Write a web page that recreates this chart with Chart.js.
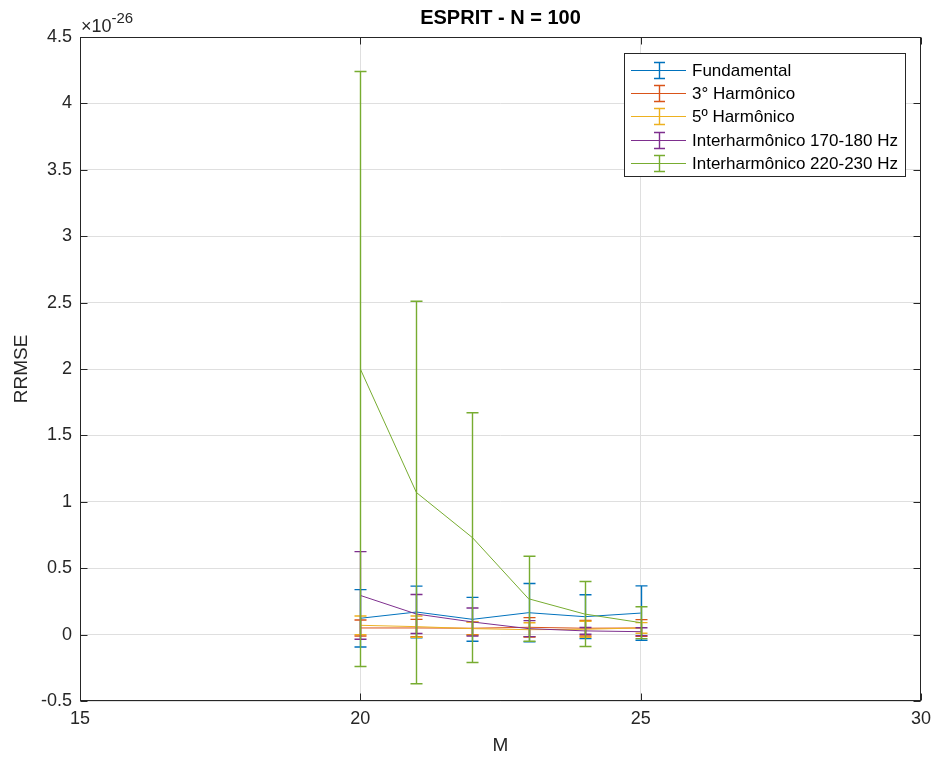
<!DOCTYPE html>
<html>
<head>
<meta charset="utf-8">
<script src="https://cdn.jsdelivr.net/npm/chart.js@4.4.1/dist/chart.umd.min.js"></script>
<style>
  html, body { margin: 0; padding: 0; background: #ffffff; }
  #wrap { width: 938px; height: 760px; }
</style>
</head>
<body>
<div id="wrap"><canvas id="c" width="938" height="760"></canvas></div>
<script>
// Embedding dimension M (x axis)
const M = [20, 21, 22, 23, 24, 25];

// RRMSE means and error half-widths, in units of 1e-26
const fundamentalMean = [0.123, 0.170, 0.115, 0.165, 0.135, 0.162];
const fundamentalErr  = [0.216, 0.195, 0.165, 0.220, 0.165, 0.205];

const harm3Mean = [0.050, 0.050, 0.048, 0.055, 0.048, 0.050];
const harm3Err  = [0.060, 0.065, 0.048, 0.073, 0.058, 0.063];

const harm5Mean = [0.070, 0.060, 0.045, 0.037, 0.040, 0.050];
const harm5Err  = [0.070, 0.080, 0.050, 0.052, 0.060, 0.040];

const inter170Mean = [0.295, 0.155, 0.095, 0.045, 0.028, 0.022];
const inter170Err  = [0.330, 0.147, 0.105, 0.060, 0.025, 0.030];

const inter220Mean = [2.000, 1.070, 0.730, 0.270, 0.155, 0.090];
const inter220Err  = [2.240, 1.440, 0.940, 0.320, 0.245, 0.120];

const seriesNames = [
  'Fundamental',
  '3° Harmônico',
  '5º Harmônico',
  'Interharmônico 170-180 Hz',
  'Interharmônico 220-230 Hz'
];
const seriesColors = ['#0072BD', '#D95319', '#EDB120', '#7E2F8E', '#77AC30'];
const seriesMeans = [fundamentalMean, harm3Mean, harm5Mean, inter170Mean, inter220Mean];
const seriesErrs  = [fundamentalErr, harm3Err, harm5Err, inter170Err, inter220Err];

const xTicks = [15, 20, 25, 30];
const yTicks = [-0.5, 0, 0.5, 1, 1.5, 2, 2.5, 3, 3.5, 4, 4.5];

const chartTitle = 'ESPRIT - N = 100';
const xLabel = 'M';
const yLabel = 'RRMSE';
const exponentBase = '\u00d710';
const exponentPower = '-26';

const FONT = '"Liberation Sans", Arial, Helvetica, sans-serif';
const AXIS_COLOR = '#262626';
const GRID_COLOR = '#dfdfdf';

const datasets = seriesNames.map((name, i) => ({
  label: name,
  data: M.map((m, k) => ({ x: m, y: seriesMeans[i][k] })),
  errors: seriesErrs[i],
  borderColor: seriesColors[i],
  backgroundColor: seriesColors[i],
  borderWidth: 1,
  pointRadius: 0,
  pointHoverRadius: 0,
  tension: 0,
  fill: false,
  order: seriesNames.length - i
}));

// Vertical error bars with caps, drawn right after each series' line
const errorBarPlugin = {
  id: 'errorBars',
  afterDatasetDraw(chart, args) {
    const ds = chart.data.datasets[args.index];
    if (!ds.errors) return;
    const { ctx, scales: { x, y }, chartArea } = chart;
    ctx.save();
    ctx.beginPath();
    ctx.rect(chartArea.left, chartArea.top, chartArea.right - chartArea.left, chartArea.bottom - chartArea.top);
    ctx.clip();
    ctx.strokeStyle = ds.borderColor;
    ctx.lineWidth = 1.4;
    const half = 6;
    ds.data.forEach((p, k) => {
      const e = ds.errors[k];
      const px = Math.round(x.getPixelForValue(p.x)) + 0.5;
      const yTop = y.getPixelForValue(p.y + e);
      const yBot = y.getPixelForValue(p.y - e);
      ctx.beginPath();
      ctx.moveTo(px, yTop); ctx.lineTo(px, yBot);
      ctx.moveTo(px - half, yTop); ctx.lineTo(px + half, yTop);
      ctx.moveTo(px - half, yBot); ctx.lineTo(px + half, yBot);
      ctx.stroke();
    });
    ctx.restore();
  }
};

// Axes box, inward ticks, title, exponent and legend
const framePlugin = {
  id: 'frame',
  afterDraw(chart) {
    const { ctx, chartArea: a, scales: { x, y } } = chart;
    ctx.save();
    ctx.strokeStyle = AXIS_COLOR;
    ctx.lineWidth = 1;
    const L = Math.round(a.left) + 0.5, R = Math.round(a.right) - 0.5;
    const T = Math.round(a.top) + 0.5, B = Math.round(a.bottom) - 0.5;
    ctx.strokeRect(L, T, R - L, B - T);

    const tl = 7;
    ctx.beginPath();
    xTicks.forEach(v => {
      const px = Math.round(x.getPixelForValue(v)) + 0.5;
      ctx.moveTo(px, B); ctx.lineTo(px, B - tl);
      ctx.moveTo(px, T); ctx.lineTo(px, T + tl);
    });
    yTicks.forEach(v => {
      const py = Math.round(y.getPixelForValue(v)) + 0.5;
      ctx.moveTo(L, py); ctx.lineTo(L + tl, py);
      ctx.moveTo(R, py); ctx.lineTo(R - tl, py);
    });
    ctx.stroke();

    // Title
    ctx.fillStyle = '#000000';
    ctx.font = 'bold 20px ' + FONT;
    ctx.textAlign = 'center';
    ctx.textBaseline = 'middle';
    ctx.fillText(chartTitle, (a.left + a.right) / 2, 18);

    // Axis exponent
    ctx.fillStyle = AXIS_COLOR;
    ctx.textAlign = 'left';
    ctx.textBaseline = 'alphabetic';
    ctx.font = '18px ' + FONT;
    ctx.fillText(exponentBase, a.left + 1, 32);
    const w = ctx.measureText(exponentBase).width;
    ctx.font = '15px ' + FONT;
    ctx.fillText(exponentPower, a.left + 1 + w, 23);

    // Legend
    const lx = 624.5, ly = 53.5, lw = 281, lh = 123;
    ctx.fillStyle = '#ffffff';
    ctx.fillRect(lx, ly, lw, lh);
    ctx.strokeStyle = AXIS_COLOR;
    ctx.lineWidth = 1;
    ctx.strokeRect(lx, ly, lw, lh);
    ctx.font = '17px ' + FONT;
    ctx.textBaseline = 'middle';
    seriesNames.forEach((name, i) => {
      const cy = Math.round(70 + i * 23.2) + 0.5;
      ctx.strokeStyle = seriesColors[i];
      ctx.lineWidth = 1;
      ctx.beginPath();
      ctx.moveTo(631, cy); ctx.lineTo(686, cy);
      ctx.stroke();
      ctx.lineWidth = 1.4;
      ctx.beginPath();
      ctx.moveTo(659.5, cy - 8); ctx.lineTo(659.5, cy + 8);
      ctx.moveTo(654, cy - 8); ctx.lineTo(665, cy - 8);
      ctx.moveTo(654, cy + 8); ctx.lineTo(665, cy + 8);
      ctx.stroke();
      ctx.fillStyle = '#000000';
      ctx.fillText(name, 692, cy + 1);
    });
    ctx.restore();
  }
};

const fmt = v => {
  const r = Math.round(v * 100) / 100;
  return String(r);
};

new Chart(document.getElementById('c'), {
  type: 'line',
  data: { datasets },
  options: {
    responsive: false,
    animation: false,
    devicePixelRatio: 1,
    layout: { padding: { top: 37, right: 17, left: 0, bottom: 0 } },
    plugins: {
      legend: { display: false },
      title: { display: false },
      tooltip: { enabled: false }
    },
    scales: {
      x: {
        type: 'linear',
        min: 15, max: 30,
        afterBuildTicks: s => { s.ticks = xTicks.map(v => ({ value: v })); },
        afterFit: s => { s.height = 59; },
        grid: { color: GRID_COLOR, drawTicks: false, lineWidth: 1 },
        border: { display: false },
        ticks: { color: AXIS_COLOR, font: { size: 18, family: FONT }, padding: 7, maxRotation: 0, callback: fmt },
        title: { display: true, text: xLabel, color: AXIS_COLOR, font: { size: 19, family: FONT }, padding: { top: 0, bottom: 3 } }
      },
      y: {
        type: 'linear',
        min: -0.5, max: 4.5,
        afterBuildTicks: s => { s.ticks = yTicks.map(v => ({ value: v })); },
        afterFit: s => { s.width = 80; },
        grid: { color: GRID_COLOR, drawTicks: false, lineWidth: 1 },
        border: { display: false },
        ticks: { color: AXIS_COLOR, font: { size: 18, family: FONT }, padding: 8, callback: fmt },
        title: { display: true, text: yLabel, color: AXIS_COLOR, font: { size: 19, family: FONT }, padding: { top: 10, bottom: 0 } }
      }
    }
  },
  plugins: [errorBarPlugin, framePlugin]
});
</script>
</body>
</html>
